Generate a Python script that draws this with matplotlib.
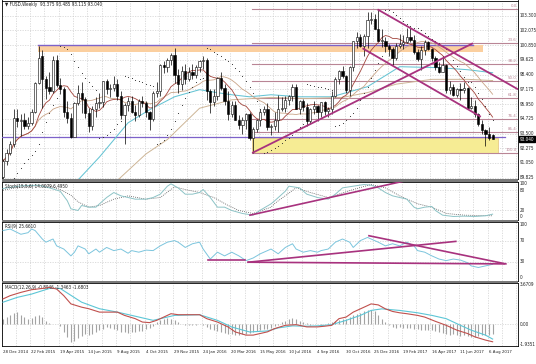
import matplotlib
matplotlib.use("Agg")
import matplotlib.pyplot as plt
import numpy as np
import pandas as pd
from matplotlib.patches import Rectangle
from matplotlib.transforms import blended_transform_factory as btf
from matplotlib import font_manager as fm

# pick a narrow face when one is installed
_names = {f.name for f in fm.fontManager.ttflist}
_cond = [f for f in fm.fontManager.ttflist if f.name == 'DejaVu Sans' and str(f.stretch) in ('condensed', 'semi-condensed', '75', '87.5')]
if 'Liberation Sans Narrow' in _names:
    plt.rcParams['font.family'] = ['Liberation Sans Narrow', 'DejaVu Sans']
else:
    plt.rcParams['font.family'] = ['DejaVu Sans']
    plt.rcParams['font.stretch'] = 'condensed'

W, H, DPI = 536, 364, 100

# ---------------- weekly candles (bar index 0 = week of 28 Dec 2014) ----------------
opens = [89.9, 91.2, 91.9, 92.6, 94.8, 94.5, 94.6, 94.1, 94.4, 95.3, 97.7, 99.9, 98.0, 97.4, 97.0, 99.6, 97.5, 97.2, 95.3, 94.8,
         93.2, 96.0, 96.9, 96.4, 95.2, 94.1, 95.5, 96.0, 96.1, 97.9, 97.2, 97.3, 97.6, 96.6, 95.0, 95.9, 96.2, 95.3, 95.0, 96.2,
         96.0, 95.3, 94.7, 96.9, 97.0, 99.2, 99.0, 99.6, 100.0, 98.4, 97.6, 98.7, 98.0, 98.6, 98.4, 99.0, 99.5, 99.6, 97.0, 96.1,
         96.6, 98.1, 97.3, 96.2, 95.1, 95.9, 94.6, 94.2, 94.6, 95.1, 93.1, 93.9, 94.6, 95.3, 95.5, 94.0, 94.1, 94.6, 95.5, 95.6,
         96.3, 96.6, 97.4, 95.5, 96.2, 95.7, 94.5, 95.5, 95.8, 95.3, 96.1, 95.4, 95.5, 96.6, 98.0, 98.7, 98.3, 97.1, 99.0, 101.2,
         101.5, 100.8, 101.6, 102.9, 103.0, 102.2, 101.2, 101.2, 100.8, 100.5, 99.8, 100.8, 100.9, 101.1, 101.5, 101.3, 100.3, 99.7, 100.4, 101.1,
         100.5, 99.8, 99.0, 98.6, 99.2, 97.1, 97.4, 96.7, 97.2, 97.1, 97.3, 95.6, 95.8, 95.1, 94.3, 93.8, 93.5, 93.375]
highs = [91.4, 92.2, 92.9, 95.5, 95.5, 95.1, 95.2, 94.9, 95.5, 97.8, 100.8, 100.4, 98.3, 98.6, 99.9, 100.0, 98.1, 97.4, 96.2, 95.2,
         96.1, 97.5, 97.8, 96.5, 95.6, 95.8, 96.5, 96.9, 97.9, 98.0, 97.6, 98.3, 98.0, 97.0, 96.0, 96.5, 96.6, 95.9, 96.4, 96.6,
         96.2, 95.4, 97.0, 97.8, 99.3, 99.5, 99.8, 100.2, 100.6, 98.9, 99.1, 99.3, 99.0, 99.3, 99.2, 99.6, 99.9, 99.8, 97.2, 97.2,
         98.2, 98.6, 97.6, 97.0, 96.2, 96.2, 95.0, 94.9, 95.2, 95.3, 94.0, 94.7, 95.5, 95.8, 96.0, 94.3, 95.3, 96.7, 96.5, 96.6,
         96.7, 97.6, 97.6, 96.3, 96.4, 96.0, 95.6, 96.2, 95.9, 96.1, 96.2, 95.7, 97.0, 98.2, 98.8, 99.1, 98.4, 99.1, 101.2, 101.9,
         101.8, 101.8, 103.6, 103.6, 103.4, 103.8, 102.2, 101.5, 100.9, 100.7, 101.0, 101.8, 101.7, 102.3, 102.3, 101.7, 100.5, 100.8, 101.3, 101.2,
         100.6, 99.9, 99.4, 99.9, 99.3, 97.9, 97.6, 97.3, 97.7, 97.8, 97.4, 96.5, 96.3, 95.2, 94.6, 93.9, 94.0, 93.485]
lows = [89.6, 90.9, 91.7, 92.4, 94.0, 93.3, 93.9, 93.9, 94.2, 95.2, 97.6, 95.6, 96.4, 96.8, 96.9, 97.4, 96.8, 94.9, 94.4, 93.1,
        93.2, 95.9, 95.2, 94.8, 93.6, 93.8, 94.9, 95.6, 95.7, 96.8, 96.5, 97.0, 96.3, 94.7, 92.6, 95.4, 95.2, 94.5, 94.9, 95.7,
        94.9, 93.8, 94.5, 96.5, 96.6, 98.5, 98.6, 99.2, 97.7, 96.9, 97.1, 97.6, 97.9, 98.0, 98.1, 98.6, 98.9, 96.3, 95.2, 95.8,
        96.3, 97.1, 95.9, 94.6, 94.9, 94.6, 93.9, 93.5, 93.9, 93.0, 91.9, 93.6, 94.1, 95.0, 93.8, 93.4, 93.8, 93.6, 95.4, 95.3,
        95.9, 96.2, 95.5, 95.1, 95.4, 94.1, 94.3, 95.1, 94.5, 94.9, 95.0, 94.9, 95.1, 96.5, 97.6, 98.1, 96.9, 96.6, 98.7, 100.6,
        100.7, 99.9, 100.6, 102.6, 102.2, 101.2, 100.7, 100.3, 99.9, 99.2, 99.6, 100.6, 100.5, 101.0, 101.1, 100.1, 99.5, 98.8, 100.0, 100.4,
        99.5, 98.8, 98.5, 98.6, 96.9, 96.8, 96.6, 96.5, 96.3, 96.9, 95.5, 95.5, 94.9, 94.1, 93.5, 92.5, 93.0, 93.015]
closes = [91.2, 91.9, 92.6, 94.8, 94.5, 94.6, 94.1, 94.4, 95.3, 97.7, 99.8, 98.0, 97.3, 97.0, 99.6, 97.5, 97.2, 95.3, 94.8, 93.2,
          96.0, 96.9, 96.4, 95.2, 94.1, 95.5, 96.0, 96.1, 97.9, 97.2, 97.3, 97.6, 96.6, 95.0, 95.9, 96.2, 95.3, 95.0, 96.2, 96.0,
          95.3, 94.7, 96.9, 97.0, 99.2, 99.0, 99.6, 100.0, 98.4, 97.6, 98.7, 98.0, 98.6, 98.4, 99.0, 99.5, 99.6, 97.0, 96.1, 96.6,
          98.1, 97.3, 96.2, 95.1, 95.9, 94.6, 94.2, 94.6, 95.1, 93.1, 93.9, 94.6, 95.3, 95.5, 94.0, 94.1, 94.6, 95.5, 95.6, 96.3,
          96.6, 97.4, 95.5, 96.2, 95.7, 94.5, 95.5, 95.8, 95.3, 96.1, 95.4, 95.5, 96.6, 98.0, 98.7, 98.3, 97.1, 99.0, 101.2, 101.5,
          100.8, 101.6, 102.9, 103.0, 102.2, 101.2, 101.2, 100.8, 100.5, 99.8, 100.8, 100.9, 101.1, 101.5, 101.3, 100.3, 99.7, 100.4, 101.1, 100.5,
          99.8, 99.0, 98.6, 99.2, 97.1, 97.4, 96.7, 97.2, 97.1, 97.3, 95.6, 95.8, 95.1, 94.3, 93.8, 93.5, 93.1, 93.04]

# ---------------- slow moving averages (bar index, price) ----------------
cyan_ma_idx = [21, 27, 35, 41, 48, 55, 60, 64, 69, 75, 83, 92, 102, 111, 122, 130, 137]
cyan_ma_val = [89.64, 91.55, 94.39, 95.47, 96.55, 97.14, 96.89, 96.72, 96.55, 96.72, 96.55, 96.55, 97.39, 99.05, 98.97, 98.80, 98.55]
tan_ma_idx = [32, 40, 46, 55, 64, 75, 85, 95, 102, 110, 120, 130, 137]
tan_ma_val = [89.6, 91.8, 93.0, 95.6, 96.3, 96.5, 96.4, 96.5, 96.9, 97.6, 98.0, 98.0, 97.9]

# ---------------- stochastic ----------------
stoch_k_idx = [0, 5, 10, 11, 13, 16, 18, 19, 21, 22, 24, 26, 27, 29, 31, 33, 35, 37, 40, 42, 44, 46, 47, 49, 51, 53, 55, 56, 58, 60,
               62, 64, 67, 70, 72, 75, 76, 79, 80, 83, 85, 88, 91, 93, 95, 98, 101, 103, 105, 107, 109, 111, 113, 115, 116, 118, 120,
               121, 123, 126, 129, 132, 135, 137]
stoch_k_val = [85, 93, 95, 92, 87, 77, 48, 24, 19, 34, 29, 29, 39, 58, 73, 63, 58, 53, 53, 58, 68, 92, 99, 87, 68, 68, 73, 82, 58, 29,
               29, 19, 10, 5, 20, 39, 48, 77, 92, 87, 68, 58, 53, 68, 87, 92, 97, 95, 87, 73, 63, 58, 53, 29, 24, 29, 31,
               19, 5, 1, 2, 1, 3, 8]
stoch_d_idx = [0, 5, 10, 13, 16, 19, 21, 24, 27, 31, 35, 40, 44, 48, 51, 55, 59, 63, 66, 70, 75, 76, 82, 86, 91, 98, 103, 107, 111,
               116, 120, 124, 129, 137]
stoch_d_val = [80, 90, 94, 92, 82, 65, 45, 29, 34, 53, 63, 53, 58, 90, 82, 73, 58, 34, 19, 10, 29, 40, 87, 73, 58, 82, 97, 87, 63,
               39, 29, 10, 5, 3]

# ---------------- RSI ----------------
rsi_idx = [0, 2, 5, 7, 8, 9, 11, 12, 14, 15, 17, 19, 20, 21, 23, 24, 26, 27, 29, 31, 33, 35, 36, 38, 40, 42, 44, 46, 48, 49, 51, 53,
           55, 56, 58, 60, 62, 64, 66, 68, 70, 72, 74, 75, 77, 79, 81, 82, 84, 86, 88, 89, 91, 93, 95, 97, 98, 100, 102, 103, 105,
           107, 109, 111, 113, 115, 116, 118, 120, 122, 124, 126, 128, 130, 131, 133, 135, 137]
rsi_val = [89, 92, 82, 85, 92, 89, 73, 67, 73, 60, 54, 41, 48, 60, 54, 45, 54, 48, 57, 51, 54, 46, 51, 48, 52, 51, 60, 67, 70, 67, 57, 64,
           67, 54, 35, 48, 41, 48, 41, 32, 37, 45, 51, 54, 45, 57, 64, 54, 48, 51, 48, 51, 54, 67, 73, 67, 57, 70, 76, 73, 67,
           60, 64, 60, 67, 60, 51, 48, 41, 35, 32, 35, 33, 28, 22, 19, 22, 25]

# ---------------- MACD ----------------
macd_idx = [0, 2, 5, 8, 11, 13, 15, 17, 19, 22, 24, 27, 32, 34, 37, 39, 41, 43, 47, 49, 55, 57, 60, 63, 65, 68, 70, 74, 76, 79, 82,
            85, 88, 90, 92, 94, 96, 98, 100, 102, 103, 105, 107, 109, 111, 113, 116, 118, 121, 124, 127, 130, 132, 135, 137]
macd_val = [2.24, 2.53, 2.82, 3.06, 3.17, 3.26, 3.12, 2.53, 1.80, 1.51, 1.37, 1.07, 1.07, 0.78, 0.49, 0.19, 0.14, 0.34, 0.93, 0.84,
            0.84, 0.49, 0.19, -0.25, -0.69, -0.97, -0.97, -0.68, -0.39, -0.10, -0.04, -0.24, -0.24, -0.18, -0.10, 0.49, 0.63, 1.07,
            1.36, 1.65, 1.80, 1.71, 1.36, 1.13, 1.01, 0.93, 0.78, 0.63, 0.25, -0.10, -0.53, -0.83, -1.12, -1.41, -1.56]
signal_idx = [0, 4, 8, 13, 16, 22, 27, 32, 36, 42, 48, 55, 60, 64, 69, 74, 77, 81, 85, 88, 92, 96, 100, 103, 106, 111, 116, 120,
              124, 128, 131, 135, 137]
signal_val = [1.95, 2.38, 2.67, 3.17, 3.17, 1.95, 1.37, 1.07, 0.78, 0.34, 0.78, 0.84, 0.34, -0.25, -0.69, -0.60, -0.33, -0.15,
              -0.18, -0.15, -0.04, 0.34, 0.78, 1.22, 1.36, 1.22, 1.01, 0.78, 0.49, -0.10, -0.53, -0.97, -1.32]
hist_val = [0.49, 0.63, 0.78, 0.98, 1.05, 0.84, 0.63, 0.49, 0.55, 0.70, 0.80, 0.65, 0.25, 0.12, 0.05, -0.02, -0.15, -0.68, -1.15, -1.56,
            -1.45, -1.25, -1.05, -0.90, -0.95, -0.83, -0.70, -0.55, -0.42, -0.28, -0.33, -0.39, -0.53, -0.68, -0.68, -0.74, -0.68,
            -0.66, -0.62, -0.58, -0.45, -0.33, -0.15, 0.15, 0.34, 0.49, 0.55, 0.49, 0.34, 0.20, 0.05, -0.05, -0.08, -0.05, -0.03,
            0.02, -0.10, -0.24, -0.39, -0.53, -0.62, -0.68, -0.75, -0.83, -0.90, -0.97, -0.97, -0.90, -0.83, -0.75, -0.68, -0.60,
            -0.53, -0.45, -0.39,
            -0.30, -0.20, -0.05, 0.15, 0.30, 0.49, 0.55, 0.45, 0.30, 0.20, 0.08, -0.05, 0.03, 0.05, -0.03, 0.03, 0.08, 0.15, 0.30,
            0.40, 0.45, 0.50, 0.62, 0.78, 0.90, 1.00, 1.15, 1.25, 1.30, 1.15, 0.85, 0.50, 0.15, -0.10, -0.25, -0.30, -0.28, -0.30,
            -0.35, -0.33, -0.40, -0.45, -0.50, -0.48, -0.55, -0.55, -0.60, -0.70, -0.80, -0.90, -0.95, -0.90, -1.00, -1.05, -1.00,
            -1.05, -1.10, -1.10, -1.05, -1.00, -1.00, -0.95, -0.85]

# ---------------- labels / levels ----------------
price_tick_labels = ["89.825", "91.050", "92.275", "93.500", "94.725", "95.950", "97.175", "98.400", "99.625", "100.850",
                     "102.075", "103.300"]
date_labels = ["28 Dec 2014", "22 Feb 2015", "19 Apr 2015", "14 Jun 2015", "9 Aug 2015", "4 Oct 2015", "29 Nov 2015",
               "24 Jan 2016", "20 Mar 2016", "15 May 2016", "10 Jul 2016", "4 Sep 2016", "30 Oct 2016", "25 Dec 2016",
               "19 Feb 2017", "16 Apr 2017", "11 Jun 2017", "6 Aug 2017"]
fib_names = ["0.0", "23.6", "38.2", "50.0", "61.8", "76.4", "85.4", "100.0"]
fib_ratios = [0.0, 0.236, 0.382, 0.5, 0.618, 0.764, 0.854, 1.0]
fib_high, fib_low = 103.85, 91.92
title_text = "\u25bc FUSD,Weekly  93.375 93.485 93.115 93.040"
last_price_label = "93.040"

n = len(closes)
assert len(opens) == len(highs) == len(lows) == n == len(hist_val)
idx = np.arange(n)

XL = (-0.42, 144.1)
FIB_C = '#b98595'
TREND_C = '#a8327e'
PURPLE = '#7d62c9'
GRID_C = '#c9c9c9'
FS = 3.3
TXT = '#222222'

fig = plt.figure(figsize=(W / DPI, H / DPI), dpi=DPI)
fig.patch.set_facecolor('white')


def rect(top, bot, left=1.5, right=518):
    return [left / W, 1 - bot / H, (right - left) / W, (bot - top) / H]


ax_m = fig.add_axes(rect(0.5, 179))
ax_s = fig.add_axes(rect(181.8, 220))
ax_r = fig.add_axes(rect(222.3, 280.5))
ax_c = fig.add_axes(rect(282.8, 346))
axes = [ax_m, ax_s, ax_r, ax_c]

# separators between sub-windows
for y0, y1 in [(179, 181.8), (220, 222.3), (280.5, 282.8)]:
    fig.patches.append(Rectangle((1.5 / W, 1 - y1 / H), 516.5 / W, (y1 - y0) / H, transform=fig.transFigure,
                                 facecolor='#7a7a7a', edgecolor='none', zorder=5))

for ax in axes:
    ax.set_xlim(*XL)
    ax.set_xticks([])
    ax.set_yticks([])
    for sp in ax.spines.values():
        sp.set_linewidth(0.6)
        sp.set_color('black')
    for k in range(0, 37):
        ax.axvline(4 * k - 0.4, color=GRID_C, lw=0.45, ls=(0, (2, 2)), zorder=0)


def rlabel(ax, tr, y, s, **kw):
    ax.text(1.003, y, s, transform=tr, fontsize=FS, va='center', ha='left', color=TXT, clip_on=False, **kw)


# ================= main price panel =================
ax_m.set_ylim(89.72, 104.55)
levels = [float(s) for s in price_tick_labels]
tr_m = btf(ax_m.transAxes, ax_m.transData)
for lv, lab in zip(levels, price_tick_labels):
    ax_m.axhline(lv, color=GRID_C, lw=0.45, ls=(0, (2, 2)), zorder=0)
    rlabel(ax_m, tr_m, lv, lab)

# orange resistance band and horizontal lines
ax_m.add_patch(Rectangle((9.8, 100.3), 134.3 - 9.8, 0.55, facecolor='#fbcf9f', edgecolor='none', zorder=1))
ax_m.plot([9.8, 131.5], [100.85, 100.85], color=PURPLE, lw=1.0, zorder=3)
ax_m.plot([-0.4, 140.5], [93.22, 93.22], color=PURPLE, lw=0.9, zorder=3)
# yellow support zone
ax_m.add_patch(Rectangle((69.7, 91.92), 138.5 - 69.7, 93.15 - 91.92, facecolor='#f6ec94', edgecolor='#e2c27a',
                         lw=0.5, zorder=1))
# fibonacci levels
for nm, r in zip(fib_names, fib_ratios):
    lv = fib_high - r * (fib_high - fib_low)
    ax_m.plot([69.7, XL[1]], [lv, lv], color=FIB_C, lw=0.8, zorder=2)
    ax_m.text(143.7, lv + 0.07, nm, fontsize=3.2, color=FIB_C, ha='right', va='bottom', zorder=6)

# moving averages
cl = pd.Series(closes)
sma10 = cl.rolling(10, min_periods=1).mean()
sma20 = cl.rolling(20, min_periods=1).mean()
ax_m.plot(cyan_ma_idx, cyan_ma_val, color='#66c4d4', lw=0.75, zorder=4)
ax_m.plot(tan_ma_idx, tan_ma_val, color='#cdb596', lw=0.7, zorder=4)
ax_m.plot(idx, sma20, color='#c9a487', lw=0.6, zorder=4)
ax_m.plot(idx, sma10, color='#a2443c', lw=0.6, zorder=4)

# candles
o = np.array(opens); c = np.array(closes); hi = np.array(highs); lo = np.array(lows)
ax_m.vlines(idx, lo, hi, color='black', lw=0.5, zorder=5)
up = c >= o
body_b = np.minimum(o, c)
body_h = np.maximum(np.abs(c - o), 0.05)
ax_m.bar(idx[up], body_h[up], bottom=body_b[up], width=0.62, facecolor='white', edgecolor='black', lw=0.4, zorder=6)
ax_m.bar(idx[~up], body_h[~up], bottom=body_b[~up], width=0.62, facecolor='black', edgecolor='black', lw=0.4, zorder=6)


# parabolic SAR computed from the candle data
def psar(h, l, step=0.02, mx=0.2):
    s = np.zeros(len(h))
    bull = True
    af = step
    ep = h[0]
    s[0] = l[0]
    for i in range(1, len(h)):
        v = s[i - 1] + af * (ep - s[i - 1])
        if bull:
            v = min(v, l[i - 1], l[max(i - 2, 0)])
            if l[i] < v:
                bull, v, ep, af = False, ep, l[i], step
            elif h[i] > ep:
                ep, af = h[i], min(af + step, mx)
        else:
            v = max(v, h[i - 1], h[max(i - 2, 0)])
            if h[i] > v:
                bull, v, ep, af = True, ep, h[i], step
            elif l[i] < ep:
                ep, af = l[i], min(af + step, mx)
        s[i] = v
    return s


sar = psar(hi, lo)
ax_m.scatter(idx, sar, s=0.6, color='#2a2a2a', zorder=7, linewidths=0)

# trend lines
for (x0, y0, x1, y1) in [(69.7, 91.88, 131.5, 101.0), (100.6, 100.58, 133.7, 94.89), (104.8, 103.81, 144.1, 97.17)]:
    ax_m.plot([x0, x1], [y0, y1], color=TREND_C, lw=1.3, zorder=8, solid_capstyle='butt')

# last price box
ax_m.text(1.003, closes[-1], last_price_label, transform=tr_m, fontsize=FS, va='center', ha='left', color='white',
          bbox=dict(boxstyle='square,pad=0.12', facecolor='black', edgecolor='black'), clip_on=False, zorder=9)
ax_m.text(0.006, 0.975, title_text, transform=ax_m.transAxes, fontsize=FS, va='center', ha='left', color=TXT)

# ================= stochastic =================
ax_s.set_ylim(-9.6, 105.2)
tr_s = btf(ax_s.transAxes, ax_s.transData)
for lv in [80, 20]:
    ax_s.axhline(lv, color=GRID_C, lw=0.45, ls=(0, (2, 2)), zorder=0)
for lv, lab in [(100, "100"), (80, "80"), (20, "20"), (0, "0")]:
    rlabel(ax_s, tr_s, lv, lab)
ax_s.plot(stoch_d_idx, stoch_d_val, color='#555555', lw=0.55, ls=(0, (1.2, 1.5)), zorder=3)
ax_s.plot(stoch_k_idx, stoch_k_val, color='#8cc3c6', lw=0.7, zorder=4)
ax_s.plot([69.1, 112.8], [4.9, 108.7], color=TREND_C, lw=1.2, zorder=5)
ax_s.text(0.006, 0.89, "Stoch(15,5,6) 14.0079 6.4950", transform=ax_s.transAxes, fontsize=FS, va='center', ha='left',
          color=TXT, zorder=6)

# ================= RSI =================
ax_r.set_ylim(-5.7, 104.7)
tr_r = btf(ax_r.transAxes, ax_r.transData)
for lv in [70, 30]:
    ax_r.axhline(lv, color=GRID_C, lw=0.45, ls=(0, (2, 2)), zorder=0)
for lv, lab in [(100, "100"), (70, "70"), (30, "30"), (0, "0")]:
    rlabel(ax_r, tr_r, lv, lab)
ax_r.plot(rsi_idx, rsi_val, color='#7cc5dd', lw=0.7, zorder=3)
for (x0, y0, x1, y1) in [(57.4, 33.4, 67.7, 33.4), (68.6, 29.0, 140.2, 25.8), (68.6, 29.0, 126.7, 68.5),
                         (102.4, 79.2, 140.7, 25.8)]:
    ax_r.plot([x0, x1], [y0, y1], color=TREND_C, lw=1.2, zorder=5)
ax_r.text(0.006, 0.93, "RSI(9) 25.6610", transform=ax_r.transAxes, fontsize=FS, va='center', ha='left', color=TXT)

# ================= MACD =================
ax_c.set_ylim(-1.9351, 3.6709)
tr_c = btf(ax_c.transAxes, ax_c.transData)
ax_c.axhline(0, color=GRID_C, lw=0.45, ls=(0, (2, 2)), zorder=0)
rlabel(ax_c, tr_c, 3.49, "3.6709")
rlabel(ax_c, tr_c, 0.0, "0.00")
rlabel(ax_c, tr_c, -1.80, "-1.9351")
ax_c.vlines(idx, 0, hist_val, color='#a3a3a3', lw=0.8, zorder=2)
ax_c.plot(signal_idx, signal_val, color='#5cc6d6', lw=0.8, zorder=3)
ax_c.plot(macd_idx, macd_val, color='#c0504d', lw=0.8, zorder=4)
ax_c.text(0.006, 0.93, "MACD(12,26,9) -0.8946 -1.3463 -1.6803", transform=ax_c.transAxes, fontsize=FS, va='center',
          ha='left', color=TXT)

# date labels
tr_d = btf(ax_c.transData, ax_c.transAxes)
for k, lab in enumerate(date_labels):
    ax_c.text(8 * k - 0.1, -0.095, lab, transform=tr_d, fontsize=3.2, va='center', ha='left', color=TXT, clip_on=False)

fig.savefig("out.png", dpi=DPI, facecolor='white')
